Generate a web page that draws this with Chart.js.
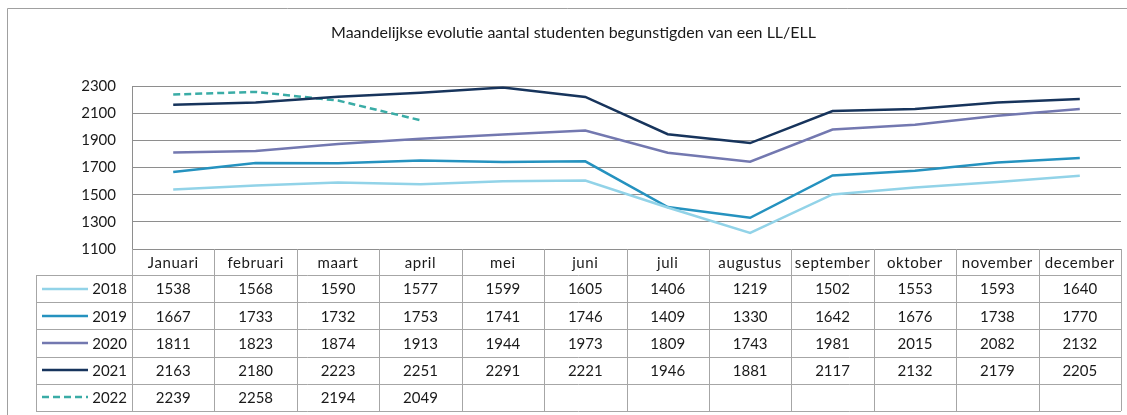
<!DOCTYPE html>
<html>
<head>
<meta charset="utf-8">
<script src="https://cdn.jsdelivr.net/npm/chart.js@4/dist/chart.umd.min.js"></script>
<style>
  html, body { margin: 0; padding: 0; background: #ffffff; }
  #wrap { width: 1127px; height: 415px; position: relative; }
</style>
</head>
<body>
<div id="wrap"><canvas id="c" width="1127" height="415"></canvas></div>
<script>
const months = ['Januari','februari','maart','april','mei','juni','juli','augustus','september','oktober','november','december'];
const seriesNames = ['2018','2019','2020','2021','2022'];
const s2018 = [1538,1568,1590,1577,1599,1605,1406,1219,1502,1553,1593,1640];
const s2019 = [1667,1733,1732,1753,1741,1746,1409,1330,1642,1676,1738,1770];
const s2020 = [1811,1823,1874,1913,1944,1973,1809,1743,1981,2015,2082,2132];
const s2021 = [2163,2180,2223,2251,2291,2221,1946,1881,2117,2132,2179,2205];
const s2022 = [2239,2258,2194,2049,null,null,null,null,null,null,null,null];
const yTicks = [1100,1300,1500,1700,1900,2100,2300];
const titleText = 'Maandelijkse evolutie aantal studenten begunstigden van een LL/ELL';

const colors = ['#92d3e8','#2592bf','#7378b0','#17345c','#3aaca6'];
const dashes = [[],[],[],[],[7,4]];
const allSeries = [s2018,s2019,s2020,s2021,s2022];

const FONT = 'Lato, "Open Sans", sans-serif';
const GRID = '#8e8e8e';
const TABLE = '#a6a6a6';
const ROW_H = 27.2;

const framePlugin = {
  id: 'frame',
  beforeDraw(chart) {
    const ctx = chart.ctx;
    ctx.save();
    ctx.fillStyle = '#ffffff';
    ctx.fillRect(0, 0, chart.width, chart.height);
    ctx.strokeStyle = '#a0a0a0';
    ctx.lineWidth = 1;
    ctx.beginPath();
    ctx.moveTo(7.5, chart.height + 2);
    ctx.lineTo(7.5, 8.5);
    ctx.lineTo(chart.width + 2, 8.5);
    ctx.stroke();
    ctx.restore();
  }
};

const tablePlugin = {
  id: 'dataTable',
  afterDraw(chart) {
    const ctx = chart.ctx;
    const xs = chart.scales.x;
    const area = chart.chartArea;
    const n = months.length;
    const colW = (area.right - area.left) / n;
    const top = area.bottom;
    const headBottom = top + 26;
    const legLeft = 36;
    ctx.save();
    ctx.strokeStyle = TABLE;
    ctx.lineWidth = 1;
    const px = v => Math.round(v) + 0.5;
    ctx.beginPath();
    for (let i = 0; i <= n; i++) {
      const x = px(area.left + i * colW);
      ctx.moveTo(x, top);
      ctx.lineTo(x, headBottom + ROW_H * seriesNames.length);
    }
    ctx.moveTo(px(legLeft), headBottom);
    ctx.lineTo(px(legLeft), headBottom + ROW_H * seriesNames.length);
    for (let r = 0; r <= seriesNames.length; r++) {
      const y = px(headBottom + r * ROW_H);
      ctx.moveTo(legLeft, y);
      ctx.lineTo(area.right, y);
    }
    ctx.stroke();

    ctx.fillStyle = '#1a1a1a';
    ctx.font = '15px ' + FONT;
    ctx.textAlign = 'center';
    ctx.textBaseline = 'middle';
    try { ctx.letterSpacing = '0.6px'; } catch (e) {}
    months.forEach((m, i) => {
      ctx.fillText(m, xs.getPixelForValue(i), (top + headBottom) / 2 + 1);
    });
    try { ctx.letterSpacing = '0px'; } catch (e) {}

    seriesNames.forEach((name, r) => {
      const cy = headBottom + r * ROW_H + ROW_H / 2 + 1;
      ctx.save();
      ctx.strokeStyle = colors[r];
      ctx.lineWidth = 2.5;
      ctx.setLineDash(dashes[r]);
      ctx.beginPath();
      ctx.moveTo(42, Math.round(cy) - 1);
      ctx.lineTo(88, Math.round(cy) - 1);
      ctx.stroke();
      ctx.restore();
      ctx.fillStyle = '#1a1a1a';
      ctx.font = '15px ' + FONT;
      ctx.textAlign = 'right';
      ctx.fillText(name, 127, cy);
      ctx.textAlign = 'center';
      allSeries[r].forEach((v, i) => {
        if (v !== null && v !== undefined) {
          ctx.fillText(String(v), xs.getPixelForValue(i), cy);
        }
      });
    });
    ctx.restore();
  }
};

const datasets = seriesNames.map((name, i) => ({
  label: name,
  data: allSeries[i],
  borderColor: colors[i],
  backgroundColor: colors[i],
  borderWidth: 2.5,
  borderDash: dashes[i],
  pointRadius: 0,
  pointHoverRadius: 0,
  tension: 0,
  spanGaps: false,
  fill: false
}));

new Chart(document.getElementById('c'), {
  type: 'line',
  data: { labels: months, datasets },
  options: {
    responsive: false,
    animation: false,
    devicePixelRatio: 1,
    layout: { padding: { left: 26, right: 6, top: 0, bottom: 166 } },
    plugins: {
      legend: { display: false },
      tooltip: { enabled: false },
      title: {
        display: true,
        text: titleText,
        color: '#1a1a1a',
        font: { family: FONT, size: 16, weight: 'normal' },
        padding: { top: 23, bottom: 44 }
      }
    },
    scales: {
      x: {
        type: 'category',
        offset: true,
        display: false
      },
      y: {
        min: 1100,
        max: 2300,
        afterFit(scale) { scale.width = 106; },
        afterBuildTicks(scale) { scale.ticks = yTicks.map(v => ({ value: v })); },
        ticks: {
          color: '#1a1a1a',
          font: { family: FONT, size: 15 },
          padding: 16,
          callback: (v) => String(v)
        },
        grid: { color: GRID, lineWidth: 1, drawTicks: false },
        border: { display: true, color: GRID, width: 1 }
      }
    }
  },
  plugins: [framePlugin, tablePlugin]
});
</script>
</body>
</html>
